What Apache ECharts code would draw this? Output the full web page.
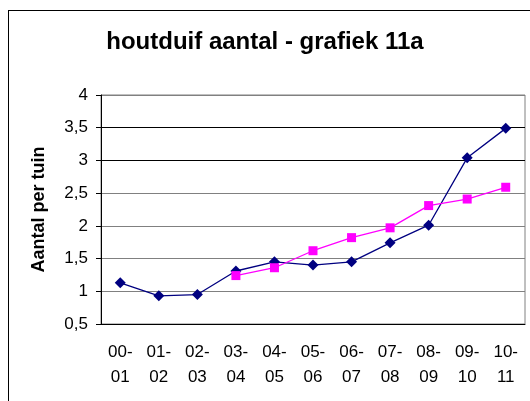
<!DOCTYPE html>
<html>
<head>
<meta charset="utf-8">
<script src="https://cdn.jsdelivr.net/npm/echarts@6/dist/echarts.min.js"></script>
<style>
  html, body { margin: 0; padding: 0; background: #fff; overflow: hidden; }
  #frame { position: absolute; left: 8px; top: 10px; width: 700px; height: 600px; border: 1px solid #000; box-sizing: border-box; }
  #echart-line { position: absolute; left: 0; top: 0; width: 530px; height: 401px; }
</style>
</head>
<body>
<div id="frame"></div>
<div id="echart-line"></div>
<script>
const title = 'houtduif aantal - grafiek 11a';
const categories = ['00-01', '01-02', '02-03', '03-04', '04-05', '05-06', '06-07', '07-08', '08-09', '09-10', '10-11'];
const navySeries = [1.13, 0.93, 0.95, 1.31, 1.45, 1.40, 1.45, 1.74, 2.01, 3.04, 3.49];
const pinkSeries = [null, null, null, 1.24, 1.36, 1.62, 1.82, 1.97, 2.31, 2.41, 2.59];

let getChart = echarts.init(document.getElementById('echart-line'));
const font = 'Liberation Sans, Arial, sans-serif';
const option = {
  animation: false,
  title: {
    text: title,
    left: 'center',
    top: 25,
    textStyle: { fontFamily: font, fontSize: 24, fontWeight: 'bold', color: '#000' }
  },
  grid: {
    left: 101,
    right: 5,
    top: 95,
    bottom: 77,
    show: true,
    borderColor: '#808080',
    borderWidth: 1
  },
  xAxis: {
    type: 'category',
    data: categories,
    boundaryGap: true,
    axisLine: { lineStyle: { color: '#000' } },
    axisTick: { length: 6, lineStyle: { color: '#000' } },
    axisLabel: {
      fontFamily: font,
      fontSize: 17,
      color: '#000',
      margin: 16,
      lineHeight: 25,
      interval: 0,
      formatter: v => v.replace('-', '-\n')
    }
  },
  yAxis: {
    type: 'value',
    min: 0.5,
    max: 4,
    interval: 0.5,
    name: 'Aantal per tuin',
    nameLocation: 'middle',
    nameGap: 53,
    nameTextStyle: { fontFamily: font, fontSize: 18, fontWeight: 'bold', color: '#000' },
    axisLine: { show: true, lineStyle: { color: '#000' } },
    axisTick: { show: true, length: 5, lineStyle: { color: '#000' } },
    axisLabel: {
      fontFamily: font,
      fontSize: 17,
      color: '#000',
      margin: 13,
      formatter: v => String(v).replace('.', ',')
    },
    splitLine: { lineStyle: { color: ['#808080', '#808080', '#808080', '#808080', '#808080', '#000', '#000', '#808080'], width: 1 } }
  },
  series: [
    {
      name: 'navy',
      type: 'line',
      data: navySeries,
      symbol: 'diamond',
      symbolSize: 11,
      itemStyle: { color: '#000080' },
      lineStyle: { color: '#000080', width: 1.3 }
    },
    {
      name: 'pink',
      type: 'line',
      data: pinkSeries,
      symbol: 'rect',
      symbolSize: 9,
      itemStyle: { color: '#ff00ff' },
      lineStyle: { color: '#ff00ff', width: 1.3 }
    }
  ]
};
getChart.setOption(option);
</script>
</body>
</html>
